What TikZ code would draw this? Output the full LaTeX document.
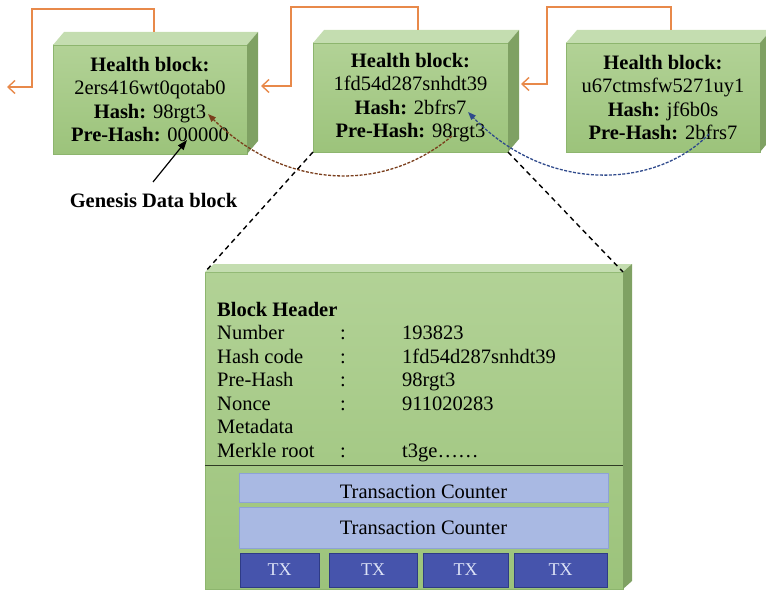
\documentclass[tikz,border=0pt]{standalone}
\usepackage{fontspec}
\setmainfont{Liberation Serif}
\usetikzlibrary{arrows.meta,calc}
\definecolor{gfrontT}{HTML}{B2D296}
\definecolor{gfrontB}{HTML}{9CC37B}
\definecolor{gborder}{HTML}{8DB56E}
\definecolor{gtop}{HTML}{C4DDB0}
\definecolor{gside}{HTML}{7FA163}
\definecolor{linkorange}{HTML}{E8894A}
\definecolor{ptrbrown}{HTML}{7A3E1C}
\definecolor{ptrblue}{HTML}{2F4A8C}
\definecolor{tcfill}{HTML}{A9B9E3}
\definecolor{tcborder}{HTML}{8DA2D6}
\definecolor{txfill}{HTML}{4654AC}
\definecolor{txborder}{HTML}{2E3B85}
\definecolor{txtext}{HTML}{DCE2F6}
\newcommand{\blockfaces}[3]{% node name, depth x, depth y
  \fill[gtop] (#1.north west) -- ++(#2,-#3) -- ($(#1.north east)+(#2,-#3)$) -- (#1.north east) -- cycle;
  \fill[gside] (#1.north east) -- ++(#2,-#3) -- ($(#1.south east)+(#2,-#3)$) -- (#1.south east) -- cycle;
}
\begin{document}
\begin{tikzpicture}[x=1pt,y=-1pt,
  txt/.style={font=\fontsize{20.5}{23.5}\selectfont},
  front/.style={rectangle, inner sep=0pt, outer sep=0pt, draw=gborder, line width=0.6pt,
    top color=gfrontT, bottom color=gfrontB, align=center, txt},
  hdr/.style={anchor=base west, inner sep=0pt, txt},
  link/.style={draw=linkorange, line width=1.4pt, -{Straight Barb[length=7pt,width=13pt]}},
  ptr/.style={dashed, line width=1.3pt, dash pattern=on 3pt off 1.5pt},
  zoomline/.style={draw=black, line width=1.4pt, dash pattern=on 5pt off 4pt},
  tcbox/.style={rectangle, inner sep=0pt, draw=tcborder, line width=0.8pt, fill=tcfill, txt},
  txbox/.style={rectangle, inner sep=0pt, draw=txborder, line width=1pt, fill=txfill,
    text=txtext, font=\fontsize{18}{21}\selectfont}
]
\useasboundingbox (0,0) rectangle (766,591);
\clip (0,0) rectangle (766,591);

% chain of health blocks
\node[front, minimum width=194pt, minimum height=109pt] (b1) at (150,99.5)
  {\textbf{Health block:}\\ 2ers416wt0qotab0\\ \textbf{Hash:} 98rgt3\\ \textbf{Pre-Hash:} 000000};
\blockfaces{b1}{11}{13}
\node[front, minimum width=195pt, minimum height=109pt] (b2) at (410.5,97.5)
  {\textbf{Health block:}\\ 1fd54d287snhdt39\\ \textbf{Hash:} 2bfrs7\\ \textbf{Pre-Hash:} 98rgt3};
\blockfaces{b2}{11}{13}
\node[front, minimum width=194pt, minimum height=109pt] (b3) at (663,97.5)
  {\textbf{Health block:}\\ u67ctmsfw5271uy1\\ \textbf{Hash:} jf6b0s\\ \textbf{Pre-Hash:} 2bfrs7};
\blockfaces{b3}{11}{13}

% links between consecutive blocks
\coordinate (b1out) at (154,32);
\coordinate (chainend) at (7,87);
\coordinate (b2out) at (418,30);
\coordinate (b1in) at (261,86);
\coordinate (b3out) at (671,30);
\coordinate (b2in) at (521,84);
\draw[link] (b1out) -- (154,9) -| (32,87) -- (chainend);
\draw[link] (b2out) -- (418,7) -| (291,86) -- (b1in);
\draw[link] (b3out) -- (671,7) -| (547,84) -- (b2in);

% pre-hash pointers
\coordinate (b1hash) at (208,114);
\coordinate (b2pre) at (452,136);
\coordinate (b2hash) at (468,112);
\coordinate (b3pre) at (709,134);
\draw[ptr, draw=ptrbrown, -{Triangle[length=8pt,width=6pt]}]
  (b2pre) .. controls (382,195) and (282,188) .. (b1hash);
\draw[ptr, draw=ptrblue, -{Triangle[length=8pt,width=6pt]}]
  (b3pre) .. controls (657,188) and (548,195) .. (b2hash);

% genesis label
\node[txt, font=\fontsize{20.5}{23.5}\selectfont\bfseries] (gen) at (153.5,200) {Genesis Data block};
\coordinate (b1pre) at (187,140);
\draw[line width=1.2pt, -{Triangle[length=10pt,width=7pt]}] (153,182) -- (b1pre);

% expanded block
\node[front, minimum width=418pt, minimum height=317pt] (big) at (414,430.5) {};
\blockfaces{big}{9}{8}
\draw[zoomline] (b2.south west) -- (big.north west);
\draw[zoomline] (b2.south east) -- (big.north east);

\node[hdr, font=\fontsize{20.5}{23.5}\selectfont\bfseries] (bh) at (217,316) {Block Header};
\node[hdr] (r1) at (217,339.5) {Number};
\node[hdr] (r2) at (217,363) {Hash code};
\node[hdr] (r3) at (217,386.5) {Pre-Hash};
\node[hdr] (r4) at (217,410) {Nonce};
\node[hdr] (r5) at (217,433.5) {Metadata};
\node[hdr] (r6) at (217,457) {Merkle root};
\node[hdr] (c1) at (340,339.5) {:};
\node[hdr] (c2) at (340,363) {:};
\node[hdr] (c3) at (340,386.5) {:};
\node[hdr] (c4) at (340,410) {:};
\node[hdr] (c6) at (340,457) {:};
\node[hdr] (v1) at (402,339.5) {193823};
\node[hdr] (v2) at (402,363) {1fd54d287snhdt39};
\node[hdr] (v3) at (402,386.5) {98rgt3};
\node[hdr] (v4) at (402,410) {911020283};
\node[hdr] (v6) at (402,457) {t3ge\ldots\ldots};
\draw[line width=1pt, draw=black!70!gfrontB] (205,465) -- (623,465);

% transactions
\node[tcbox, minimum width=369pt, minimum height=29pt] (tc1) at (423.5,487.5)
  {\raisebox{-4pt}[\height][0pt]{Transaction Counter}};
\node[tcbox, minimum width=369pt, minimum height=41pt] (tc2) at (423.5,527.5) {Transaction Counter};
\node[txbox, minimum width=79pt, minimum height=34pt] (tx1) at (279.5,570) {TX};
\node[txbox, minimum width=88pt, minimum height=34pt] (tx2) at (373,570) {TX};
\node[txbox, minimum width=85pt, minimum height=34pt] (tx3) at (465.5,570) {TX};
\node[txbox, minimum width=93pt, minimum height=34pt] (tx4) at (560.5,570) {TX};
\end{tikzpicture}
\end{document}
